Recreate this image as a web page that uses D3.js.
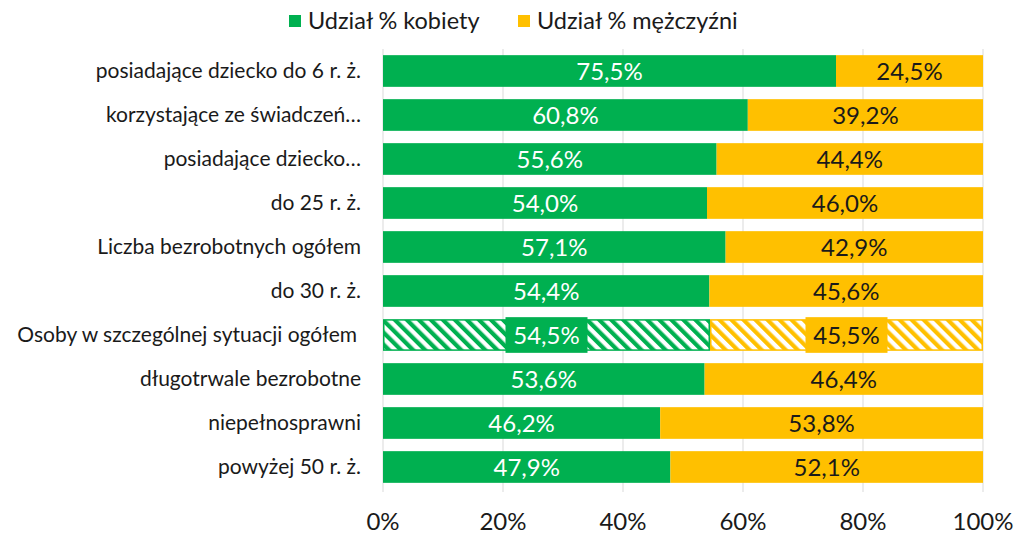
<!DOCTYPE html>
<meta charset="utf-8">
<style>
  body { margin: 0; background: #fff; }
  text { font-family: Lato, "DejaVu Sans", sans-serif; }
</style>
<body>
<script src="https://d3js.org/d3.v7.min.js"></script>
<script>

// data
var categories = [
  "posiadające dziecko do 6 r. ż.",
  "korzystające ze świadczeń…",
  "posiadające dziecko…",
  "do 25 r. ż.",
  "Liczba bezrobotnych ogółem",
  "do 30 r. ż.",
  "Osoby w szczególnej sytuacji ogółem",
  "długotrwale bezrobotne",
  "niepełnosprawni",
  "powyżej 50 r. ż."
];
var kobiety = [75.5, 60.8, 55.6, 54.0, 57.1, 54.4, 54.5, 53.6, 46.2, 47.9];
var mezczyzni = [24.5, 39.2, 44.4, 46.0, 42.9, 45.6, 45.5, 46.4, 53.8, 52.1];
var seriesNames = ["Udział % kobiety", "Udział % mężczyźni"];
var ticks = [0, 20, 40, 60, 80, 100];
var hatched = "Osoby w szczególnej sytuacji ogółem";

var colors = ["#00b050", "#ffc000"];
var textColors = ["#ffffff", "#1a1a1a"];

var width = 1016, height = 534;
var margin = {top: 49, right: 33, bottom: 45, left: 383};

var svg = d3.select("body").append("svg")
    .attr("width", width)
    .attr("height", height);

// hatch patterns
var defs = svg.append("defs");
colors.forEach(function(c, i) {
  var p = defs.append("pattern")
      .attr("id", "hatch" + i)
      .attr("patternUnits", "userSpaceOnUse")
      .attr("width", 8.5)
      .attr("height", 8.5)
      .attr("patternTransform", "rotate(-45)");
  p.append("rect").attr("width", 8.5).attr("height", 8.5).attr("fill", "#fff");
  p.append("rect").attr("width", 4.2).attr("height", 8.5).attr("fill", c);
});

var x = d3.scaleLinear().domain([0, 100]).range([margin.left, width - margin.right]);
var y = d3.scaleBand().domain(categories)
    .range([margin.top, height - margin.bottom])
    .paddingInner(0.28).paddingOuter(0.14);

// gridlines
svg.append("g")
  .selectAll("line")
  .data(ticks)
  .join("line")
    .attr("x1", function(d) { return x(d); })
    .attr("x2", function(d) { return x(d); })
    .attr("y1", margin.top)
    .attr("y2", height - margin.bottom + 3)
    .attr("stroke", "#d9d9d9")
    .attr("stroke-width", 1);

// tick labels
svg.append("g")
  .selectAll("text")
  .data(ticks)
  .join("text")
    .attr("x", function(d) { return x(d); })
    .attr("y", 530)
    .attr("text-anchor", "middle")
    .attr("font-size", 24)
    .attr("fill", "#1a1a1a")
    .text(function(d) { return d + "%"; });

// category labels
svg.append("g")
  .selectAll("text")
  .data(categories)
  .join("text")
    .attr("x", function(d) { return d === hatched ? 357 : 361; })
    .attr("y", function(d) { return y(d) + y.bandwidth() / 2; })
    .attr("dy", "0.35em")
    .attr("text-anchor", "end")
    .attr("font-size", 21)
    .attr("fill", "#1a1a1a")
    .text(function(d) { return d; });

// stacked segments
var rows = categories.map(function(c, i) {
  return [
    {cat: c, s: 0, x0: 0, x1: kobiety[i], v: kobiety[i]},
    {cat: c, s: 1, x0: kobiety[i], x1: 100, v: mezczyzni[i]}
  ];
});
var segs = [].concat.apply([], rows);

var fmt = function(v) { return v.toFixed(1).replace(".", ",") + "%"; };

svg.append("g")
  .selectAll("rect")
  .data(segs)
  .join("rect")
    .attr("x", function(d) { return x(d.x0) + (d.cat === hatched ? 0.75 : 0); })
    .attr("y", function(d) { return y(d.cat) + (d.cat === hatched ? 0.75 : 0); })
    .attr("width", function(d) { return x(d.x1) - x(d.x0) - (d.cat === hatched ? 1.5 : 0); })
    .attr("height", function(d) { return y.bandwidth() - (d.cat === hatched ? 1.5 : 0); })
    .attr("fill", function(d) { return d.cat === hatched ? "url(#hatch" + d.s + ")" : colors[d.s]; })
    .attr("stroke", function(d) { return d.cat === hatched ? colors[d.s] : "none"; })
    .attr("stroke-width", 1.5);

// label boxes for hatched row
var hSegs = segs.filter(function(d) { return d.cat === hatched; });
svg.append("g")
  .selectAll("rect")
  .data(hSegs)
  .join("rect")
    .attr("x", function(d) { return x((d.x0 + d.x1) / 2) - 41; })
    .attr("y", function(d) { return y(d.cat) - 2; })
    .attr("width", 82)
    .attr("height", y.bandwidth() + 4)
    .attr("fill", function(d) { return colors[d.s]; });

// value labels
svg.append("g")
  .selectAll("text")
  .data(segs)
  .join("text")
    .attr("x", function(d) { return x((d.x0 + d.x1) / 2); })
    .attr("y", function(d) { return y(d.cat) + y.bandwidth() / 2; })
    .attr("dy", "0.36em")
    .attr("text-anchor", "middle")
    .attr("font-size", 24)
    .attr("fill", function(d) { return textColors[d.s]; })
    .text(function(d) { return fmt(d.v); });

// legend
var legendX = [289, 518];
var legend = svg.append("g")
  .selectAll("g")
  .data(seriesNames)
  .join("g")
    .attr("transform", function(d, i) { return "translate(" + legendX[i] + ",15)"; });
legend.append("rect")
    .attr("width", 12).attr("height", 12)
    .attr("fill", function(d, i) { return colors[i]; });
legend.append("text")
    .attr("x", 19).attr("y", 6)
    .attr("dy", "0.36em")
    .attr("font-size", 23.5)
    .attr("fill", "#1a1a1a")
    .text(function(d) { return d; });

</script>
</body>
